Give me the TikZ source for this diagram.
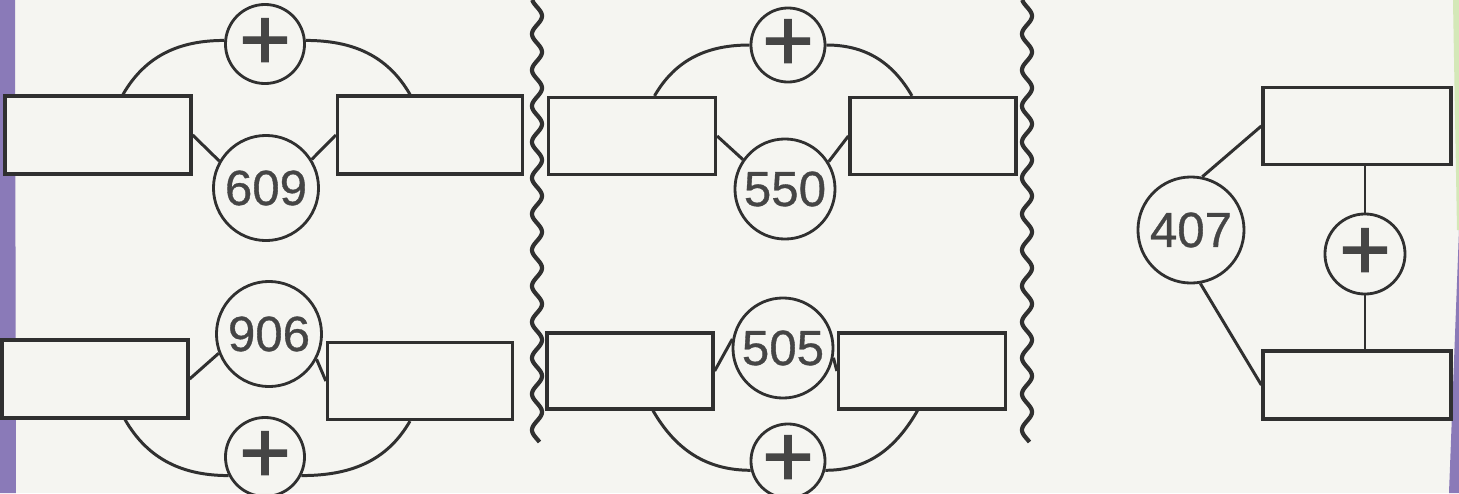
\documentclass[tikz,border=0pt]{standalone}
\usepackage{fontspec}
\setmainfont{Liberation Sans}
\newfontfamily\sumfont[FakeBold=0.7]{Liberation Sans}
\newfontfamily\plusfont[FakeBold=1.6]{Liberation Sans}
\usetikzlibrary{positioning}
\definecolor{ink}{HTML}{303030}
\definecolor{paper}{HTML}{F5F5F1}
\definecolor{strip}{HTML}{8A7AB8}
\definecolor{leaf}{HTML}{D4E8B8}

\begin{document}
\begin{tikzpicture}[x=0.01cm, y=0.01cm,
  box/.style={draw=ink, fill=paper, rectangle, line width=0.9pt, minimum width=1.86cm, minimum height=0.78cm, inner sep=0pt},
  sumc/.style={draw=ink, fill=paper, circle, line width=0.8pt, minimum size=1.05cm, inner sep=0pt, text=ink!90, font=\sumfont\fontsize{14}{14}\selectfont},
  plusc/.style={draw=ink, fill=paper, circle, line width=0.8pt, minimum size=0.79cm, inner sep=0pt, text=ink!90, font=\plusfont\fontsize{25}{25}\selectfont},
  ln/.style={draw=ink, line width=0.85pt},
  wave/.style={draw=ink, line width=1.2pt},
]
  % page and scan edges
  \fill[paper] (0,0) rectangle (1459,493);
  \useasboundingbox (0,0) rectangle (1459,493);
  \fill[strip] (0,0) -- (16,0) -- (15,493) -- (0,493) -- cycle;
  \fill[leaf] (1453,493) -- (1459,493) -- (1459,263) -- (1457,263) -- cycle;
  \fill[strip] (1459,263) -- (1459,0) -- (1449,0) -- cycle;

  % dividers
  \draw[wave] plot[domain=51:493, samples=300, smooth] ({537+5*sin(10*\x)}, \x);
  \draw[wave] plot[domain=51:493, samples=300, smooth] ({1027+5*sin(10*\x)}, \x);

  % first panel
  \node[box] (aL) at (98,358) {};
  \node[box, minimum width=1.85cm] (aR) at (430,358) {};
  \node[plusc] (aPlus) at (265,449) {+};
  \node[sumc] (aSum) at (266,305) {609};
  \node[box] (bL) at (95,114) {};
  \node[box, minimum width=1.85cm, minimum height=0.77cm] (bR) at (420,112) {};
  \node[sumc] (bSum) at (269,159) {906};
  \node[plusc] (bPlus) at (265,36) {+};

  % second panel
  \node[box, minimum width=1.67cm, minimum height=0.77cm] (cL) at (632,357) {};
  \node[box, minimum width=1.66cm, minimum height=0.77cm] (cR) at (933,357) {};
  \node[plusc, minimum size=0.74cm] (cPlus) at (788,448) {+};
  \node[sumc, minimum size=1.0cm] (cSum) at (785,304) {550};
  \node[box, minimum width=1.66cm, minimum height=0.76cm] (dL) at (630,122) {};
  \node[box, minimum width=1.67cm, minimum height=0.76cm] (dR) at (922,122) {};
  \node[sumc, minimum size=1.0cm] (dSum) at (783,145) {505};
  \node[plusc, minimum size=0.74cm] (dPlus) at (788,32) {+};

  % third panel
  \node[box, minimum width=1.88cm, minimum height=0.77cm] (eT) at (1357,367) {};
  \node[box, minimum width=1.88cm, minimum height=0.68cm] (eB) at (1357,108) {};
  \node[sumc, minimum size=1.06cm] (eSum) at (1191,263) {407};
  \node[plusc, minimum size=0.8cm] (ePlus) at (1365,239) {+};

  \draw[ln] (aL.east) -- (aSum.150);
  \draw[ln] (aR.west) -- (aSum.32);
  \draw[ln] ([xshift=0.25cm]aL.north) to[out=60,in=180] (aPlus.175);
  \draw[ln] (aPlus.5) to[out=0,in=120] ([xshift=-0.2cm]aR.north);
  \draw[ln] (bL.east) -- (bSum.201);
  \draw[ln] (bR.west) -- (bSum.-28);
  \draw[ln] ([xshift=0.3cm]bL.south) to[out=-60,in=180] (bPlus.207);
  \draw[ln] (bPlus.-27) to[out=0,in=-120] ([xshift=-0.1cm]bR.south);

  \draw[ln] (cL.east) -- (cSum.145);
  \draw[ln] (cR.west) -- (cSum.32);
  \draw[ln] ([xshift=0.225cm]cL.north) to[out=60,in=180] (cPlus.west);
  \draw[ln] (cPlus.east) to[out=0,in=120] ([xshift=-0.21cm]cR.north);
  \draw[ln] (dL.east) -- (dSum.170);
  \draw[ln] (dR.west) -- (dSum.-11);
  \draw[ln] ([xshift=0.23cm]dL.south) to[out=-60,in=180] (dPlus.194);
  \draw[ln] (dPlus.-14) to[out=0,in=-120] ([xshift=-0.045cm]dR.south);

  \draw[ln] (eT.west) -- (eSum.78);
  \draw[ln] (eB.west) -- (eSum.-80);
  \draw[ln] (ePlus.north) -- (ePlus.north |- eT.south);
  \draw[ln] (ePlus.south) -- (ePlus.south |- eB.north);
\end{tikzpicture}
\end{document}
